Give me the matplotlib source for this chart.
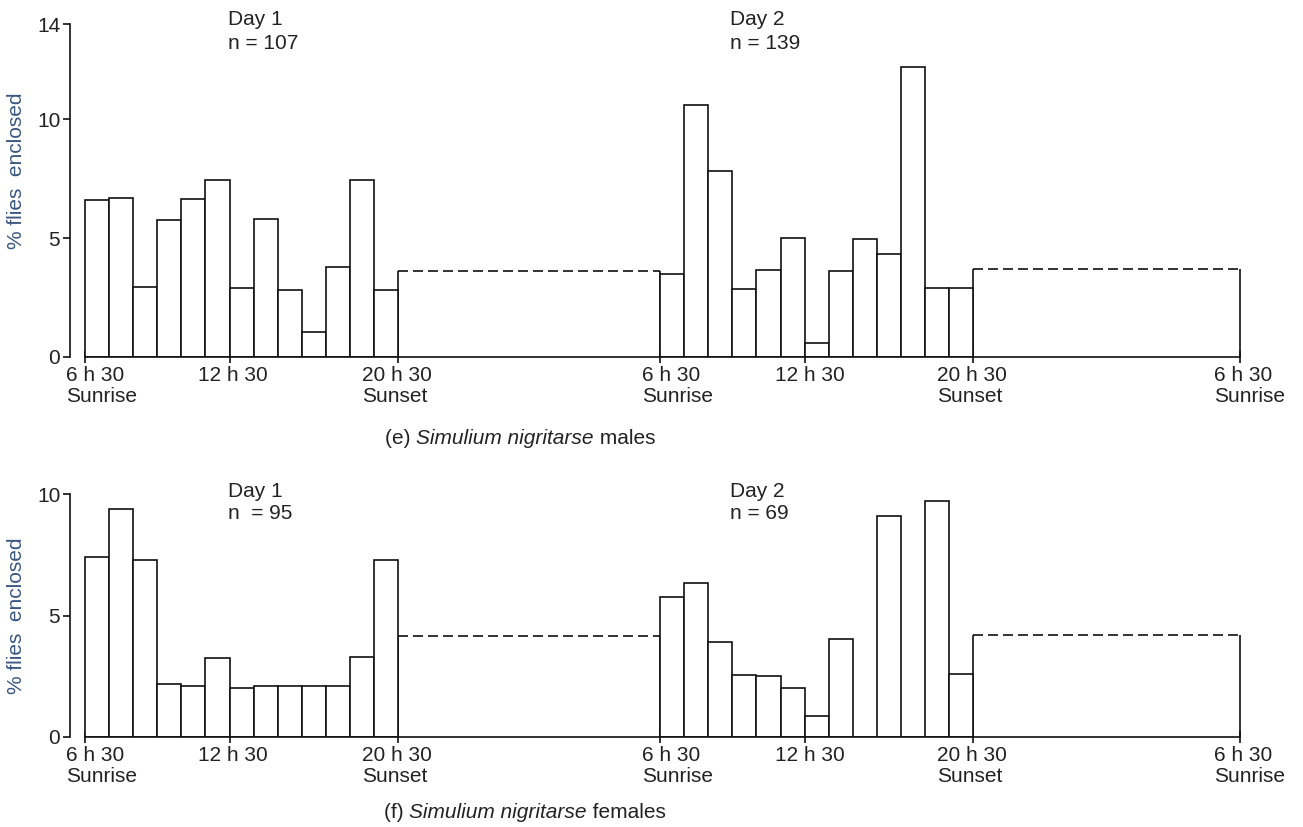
import matplotlib
matplotlib.use('Agg')
from matplotlib import pyplot as plt
from matplotlib.transforms import offset_copy

plt.rcParams['font.family'] = ['Liberation Sans', 'DejaVu Sans']

# % flies enclosed per hourly interval, from sunrise (6 h 30) to sunset (20 h 30)
machos_dia1 = [6.6, 6.7, 2.95, 5.75, 6.65, 7.45, 2.9, 5.8, 2.8, 1.05, 3.8, 7.45, 2.8]
machos_dia2 = [3.5, 10.6, 7.8, 2.85, 3.65, 5.0, 0.6, 3.6, 4.95, 4.35, 12.2, 2.9, 2.9]
machos_noche = [3.6, 3.7]

hembras_dia1 = [7.4, 9.4, 7.3, 2.2, 2.1, 3.25, 2.0, 2.1, 2.1, 2.1, 2.1, 3.3, 7.3]
hembras_dia2 = [5.75, 6.35, 3.9, 2.55, 2.5, 2.0, 0.85, 4.05, 0.0, 9.1, 0.0, 9.7, 2.6]
hembras_noche = [4.15, 4.2]

n_machos = [107, 139]
n_hembras = [95, 69]

etiquetas_x = ['6 h 30\nSunrise', '12 h 30', '20 h 30\nSunset',
               '6 h 30\nSunrise', '12 h 30', '20 h 30\nSunset',
               '6 h 30\nSunrise']

# posiciones en el eje (1 unidad = ancho de una barra)
inicio_dias = [0, 23.86]
fin_noche = 47.9
x_textos = [5.95, 26.78]
desplaz_etiquetas = [17, 3, -1, 17, 5, -1, 10]  # px

TXT = '#222222'
AZUL = '#3a5680'
FS = 15

fig = plt.figure(figsize=(13.03, 8.27), dpi=100)
ax_e = fig.add_axes([70 / 1303, (827 - 357) / 827, 1190 / 1303, 333 / 827])
ax_f = fig.add_axes([70 / 1303, (827 - 737) / 827, 1190 / 1303, 243 / 827])


def dibujar_panel(ax, dia1, dia2, noche, ns, ymax, yticks, y_dia, y_n, n_fmt, y_label_pos):
    for d, valores in enumerate([dia1, dia2]):
        x0 = inicio_dias[d]
        xs = [x0 + i + 0.5 for i in range(len(valores))]
        ax.bar(xs, valores, width=1.0, color='white', edgecolor='#111111', linewidth=1.2, zorder=2)
        # noche: lados continuos, techo discontinuo
        xn0 = x0 + len(valores)
        xn1 = inicio_dias[1] if d == 0 else fin_noche
        ax.vlines([xn0, xn1], 0, noche[d], color='#111111', linewidth=1.2, zorder=1)
        ax.hlines(noche[d], xn0, xn1, color='#111111', linewidth=1.2,
                  linestyles=(0, (6, 3)), zorder=1)
        ax.text(x_textos[d], y_dia, 'Day %d' % (d + 1), fontsize=FS, color=TXT,
                ha='left', va='center')
        ax.text(x_textos[d], y_n, n_fmt[d] % ns[d], fontsize=FS, color=TXT,
                ha='left', va='center')

    ax.set_xlim(-0.62, 48.75)
    ax.set_ylim(0, ymax)
    for s in ['top', 'right']:
        ax.spines[s].set_visible(False)
    ax.spines['bottom'].set_bounds(0, fin_noche)
    ax.spines['left'].set_bounds(0, ymax)
    for s in ['bottom', 'left']:
        ax.spines[s].set_linewidth(1.2)
        ax.spines[s].set_color('#111111')

    ticks = [inicio_dias[0], inicio_dias[0] + 6, inicio_dias[0] + 13,
             inicio_dias[1], inicio_dias[1] + 6, inicio_dias[1] + 13, fin_noche]
    ax.set_xticks(ticks)
    ax.set_xticklabels([])
    ax.tick_params(axis='x', direction='inout', length=9, width=1.2, color='#111111')
    # etiquetas del eje x, algo desplazadas como en el original
    for t, etiqueta, dx in zip(ticks, etiquetas_x, desplaz_etiquetas):
        tr = offset_copy(ax.get_xaxis_transform(), fig=fig, x=dx, y=-9, units='dots')
        ax.text(t, 0, etiqueta, transform=tr, fontsize=FS, color=TXT, ha='center',
                va='top', multialignment='left', linespacing=1.1)
    ax.set_yticks(yticks)
    ax.set_yticklabels([str(v) for v in yticks], fontsize=FS, color=TXT)
    ax.tick_params(axis='y', direction='out', length=5, width=1.2, pad=2, color='#111111')
    ax.text(-0.045, y_label_pos, '% flies  enclosed', rotation=90, transform=ax.transAxes,
            fontsize=FS, color=AZUL, ha='center', va='center')


dibujar_panel(ax_e, machos_dia1, machos_dia2, machos_noche, n_machos, 14, [0, 5, 10, 14],
              14.2, 13.2, ['n = %d', 'n = %d'], 0.56)
dibujar_panel(ax_f, hembras_dia1, hembras_dia2, hembras_noche, n_hembras, 10, [0, 5, 10],
              10.12, 9.2, ['n  = %d', 'n = %d'], 0.50)


def pie(y_px, x_px, letra, sexo):
    t1 = fig.text(x_px / 1303, 1 - y_px / 827, '(%s) ' % letra, fontsize=FS, color=TXT,
                  ha='left', va='center')
    a = ax_f.annotate('Simulium nigritarse', xy=(1, 0), xycoords=t1, va='bottom', ha='left',
                      fontsize=FS, color=TXT, style='italic', annotation_clip=False)
    ax_f.annotate(' ' + sexo, xy=(1, 0), xycoords=a, va='bottom', ha='left',
                  fontsize=FS, color=TXT, annotation_clip=False)


pie(438, 385, 'e', 'males')
pie(813, 384, 'f', 'females')

fig.savefig('out.png', dpi=100)
